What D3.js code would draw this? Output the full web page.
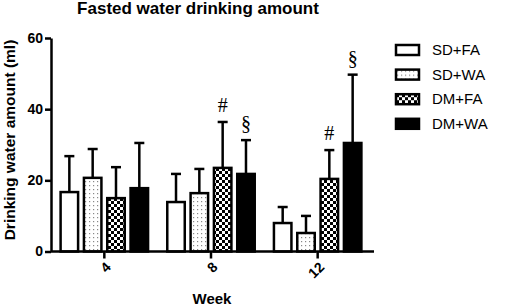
<!DOCTYPE html>
<html>
<head>
<meta charset="utf-8">
<script src="https://cdn.jsdelivr.net/npm/d3@7"></script>
<style>
  body { margin: 0; background: #fff; }
  svg { display: block; font-family: Arial, "Liberation Sans", sans-serif; }
</style>
</head>
<body>
<div class="canvas"></div>
<script>
// data
const weeks = ['4', '8', '12'];
const groups = ['SD+FA', 'SD+WA', 'DM+FA', 'DM+WA'];
const sdfa = [16.7, 13.9, 8.0];
const sdfaErr = [10.1, 7.9, 4.5];
const sdwa = [20.7, 16.4, 5.2];
const sdwaErr = [8.1, 6.8, 4.8];
const dmfa = [15.0, 23.5, 20.4];
const dmfaErr = [8.7, 12.9, 8.1];
const dmwa = [17.8, 21.8, 30.5];
const dmwaErr = [12.7, 9.5, 19.2];
const yTicks = [0, 20, 40, 60];
const marks = [
  { week: '8', group: 'DM+FA', sign: '#' },
  { week: '8', group: 'DM+WA', sign: '\u00a7' },
  { week: '12', group: 'DM+FA', sign: '#' },
  { week: '12', group: 'DM+WA', sign: '\u00a7' }
];

const means = { 'SD+FA': sdfa, 'SD+WA': sdwa, 'DM+FA': dmfa, 'DM+WA': dmwa };
const errs = { 'SD+FA': sdfaErr, 'SD+WA': sdwaErr, 'DM+FA': dmfaErr, 'DM+WA': dmwaErr };

const rows = [];
weeks.forEach((w, i) => {
  groups.forEach(g => {
    rows.push({ week: w, group: g, value: means[g][i], err: errs[g][i] });
  });
});

const svg = d3.select('.canvas').append('svg')
  .attr('width', 505)
  .attr('height', 308);

// patterns
const defs = svg.append('defs');
const dots = defs.append('pattern')
  .attr('id', 'dots')
  .attr('width', 4).attr('height', 4)
  .attr('patternUnits', 'userSpaceOnUse');
dots.append('rect').attr('width', 4).attr('height', 4).attr('fill', '#fff');
dots.append('rect').attr('x', 1).attr('y', 1).attr('width', 1.2).attr('height', 1.2).attr('fill', '#888');

const checker = defs.append('pattern')
  .attr('id', 'checker')
  .attr('width', 6).attr('height', 6)
  .attr('patternUnits', 'userSpaceOnUse');
checker.append('rect').attr('width', 6).attr('height', 6).attr('fill', '#fff');
checker.append('rect').attr('width', 3).attr('height', 3).attr('fill', '#000');
checker.append('rect').attr('x', 3).attr('y', 3).attr('width', 3).attr('height', 3).attr('fill', '#000');

const fills = { 'SD+FA': '#fff', 'SD+WA': 'url(#dots)', 'DM+FA': 'url(#checker)', 'DM+WA': '#000' };

const x0 = d3.scaleBand().domain(weeks).range([51, 371]).paddingInner(0.18).paddingOuter(0.09);
const x1 = d3.scaleBand().domain(groups).range([0, x0.bandwidth()]).paddingInner(0.25);
const y = d3.scaleLinear().domain([0, 60]).range([251.5, 38]);

// bars
const bars = svg.append('g');
bars.selectAll('rect')
  .data(rows)
  .join('rect')
  .attr('x', d => x0(d.week) + x1(d.group))
  .attr('y', d => y(d.value))
  .attr('width', x1.bandwidth())
  .attr('height', d => y(0) - y(d.value))
  .attr('fill', d => fills[d.group])
  .attr('stroke', '#000')
  .attr('stroke-width', 2.5);

// error bars (upper only)
const eb = svg.append('g').attr('stroke', '#000').attr('stroke-width', 2.5);
eb.selectAll('line.v')
  .data(rows)
  .join('line')
  .attr('class', 'v')
  .attr('x1', d => x0(d.week) + x1(d.group) + x1.bandwidth() / 2)
  .attr('x2', d => x0(d.week) + x1(d.group) + x1.bandwidth() / 2)
  .attr('y1', d => y(d.value))
  .attr('y2', d => y(d.value + d.err));
eb.selectAll('line.c')
  .data(rows)
  .join('line')
  .attr('class', 'c')
  .attr('x1', d => x0(d.week) + x1(d.group) + x1.bandwidth() / 2 - 5)
  .attr('x2', d => x0(d.week) + x1(d.group) + x1.bandwidth() / 2 + 5)
  .attr('y1', d => y(d.value + d.err))
  .attr('y2', d => y(d.value + d.err));

// significance marks
svg.append('g').selectAll('text')
  .data(marks)
  .join('text')
  .attr('x', d => x0(d.week) + x1(d.group) + x1.bandwidth() / 2)
  .attr('y', d => {
    const r = rows.find(o => o.week === d.week && o.group === d.group);
    return y(r.value + r.err) - 10;
  })
  .attr('text-anchor', 'middle')
  .style('font-family', '"Liberation Serif", "DejaVu Serif", serif')
  .style('font-size', '20px')
  .text(d => d.sign);

// y axis
const yAxis = svg.append('g')
  .attr('transform', 'translate(51,0)')
  .call(d3.axisLeft(y).tickValues(yTicks).tickSize(6).tickPadding(2).tickSizeOuter(0));
yAxis.select('.domain').attr('stroke-width', 2.5);
yAxis.selectAll('.tick line').attr('stroke-width', 2.5);
yAxis.selectAll('.tick text')
  .style('font-size', '14px')
  .style('font-weight', 'bold')
  .attr('fill', '#000');

// x axis
const xAxis = svg.append('g')
  .attr('transform', 'translate(0,' + y(0) + ')')
  .call(d3.axisBottom(x0).tickSize(7).tickSizeOuter(0));
xAxis.select('.domain').attr('d', 'M51,0H374').attr('stroke-width', 2.5);
xAxis.selectAll('.tick line').attr('stroke-width', 2.5);
xAxis.selectAll('.tick text')
  .style('font-size', '14px')
  .style('font-weight', 'bold')
  .attr('fill', '#000')
  .attr('text-anchor', 'end')
  .attr('y', 0)
  .attr('dy', '0.35em')
  .attr('transform', 'translate(4,13) rotate(-45)');

// titles
svg.append('text')
  .attr('x', 198)
  .attr('y', 14)
  .attr('text-anchor', 'middle')
  .style('font-size', '17px')
  .style('font-weight', 'bold')
  .text('Fasted water drinking amount');

svg.append('text')
  .attr('transform', 'translate(15,140) rotate(-90)')
  .attr('text-anchor', 'middle')
  .style('font-size', '15.5px')
  .style('font-weight', 'bold')
  .text('Drinking water amount (ml)');

svg.append('text')
  .attr('x', 212)
  .attr('y', 304)
  .attr('text-anchor', 'middle')
  .style('font-size', '15px')
  .style('font-weight', 'bold')
  .text('Week');

// legend
const legend = svg.append('g').attr('transform', 'translate(396,45)');
const item = legend.selectAll('g')
  .data(groups)
  .join('g')
  .attr('transform', (d, i) => 'translate(0,' + (i * 24.6) + ')');
item.append('rect')
  .attr('width', 23)
  .attr('height', 10)
  .attr('fill', d => fills[d])
  .attr('stroke', '#000')
  .attr('stroke-width', 2.5);
item.append('text')
  .attr('x', 36)
  .attr('y', 5)
  .attr('dy', '0.35em')
  .style('font-size', '15px')
  .text(d => d);
</script>
</body>
</html>
